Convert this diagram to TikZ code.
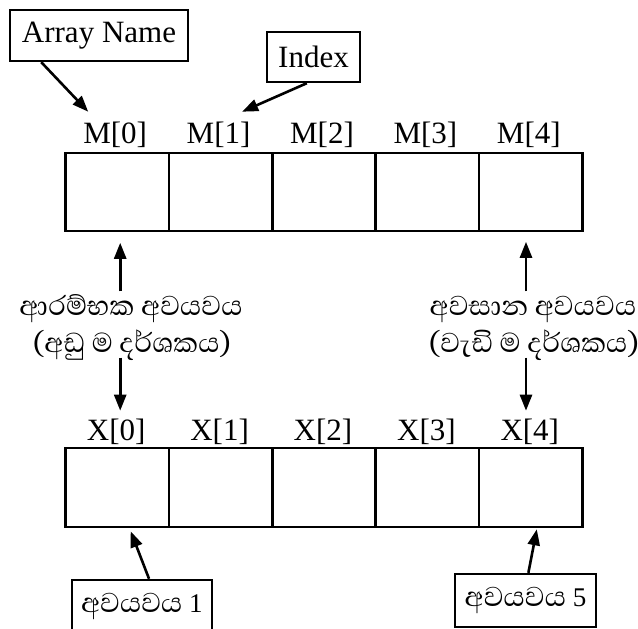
\documentclass[tikz,border=0pt]{standalone}
\usepackage{fontspec}
\setmainfont{Liberation Serif}
\newfontfamily\sinhalafont[Script=Sinhala]{Abhaya Libre}
\usetikzlibrary{arrows.meta,calc}
\newcommand\sinbig{\fontsize{35}{40}\sinhalafont}
\begin{document}
\begin{tikzpicture}[x=1pt,y=-1pt,
  cell/.style={draw,line width=2.6pt,minimum width=103.4pt,minimum height=78pt,inner sep=0pt},
  lab/.style={font=\fontsize{31}{37}\selectfont,anchor=base,inner sep=0pt},
  tbox/.style={draw,line width=2.4pt,inner sep=0pt,font=\fontsize{31}{37}\selectfont},
  sbox/.style={draw,line width=2.4pt,inner sep=0pt,font=\fontsize{27}{37}\selectfont},
  sin/.style={font=\sinbig,anchor=base,inner sep=0pt},
  arr/.style={line width=2.6pt,-{Triangle[length=16pt,width=12pt]}}]
\useasboundingbox (0,0) rectangle (638,629);
\clip (0,0) rectangle (638,629);
\fill[white] (0,0) rectangle (638,629);
% arrays
\foreach \i in {0,...,4}{
  \node[cell] (m\i) at ({117.2+103.4*\i},192) {};
  \node[lab] (ml\i) at ({115.2+103.4*\i},143) {M[\i]};
  \node[cell,minimum height=79pt] (x\i) at ({117.2+103.4*\i},487.5) {};
  \node[lab] (xl\i) at ({116.2+103.4*\i},440) {X[\i]};
}
% boxes
\node[tbox,minimum width=178pt,minimum height=51pt] (an) at (99,35.5) {Array Name};
\node[tbox,minimum width=93pt,minimum height=50pt] (ix) at (313.5,57) {Index};
\node[sbox,minimum width=140.3pt,minimum height=52pt] (b1) at (141.9,606) {{\sinbig අවයවය} 1};
\node[sbox,minimum width=141pt,minimum height=53pt] (b5) at (525.5,600.5) {{\sinbig අවයවය} 5};
% sinhala texts
\node[sin] (s1a) at (131,315) {ආරම්භක අවයවය};
\node[sin] (s1b) at (132,352) {(අඩු ම දර්ශකය)};
\node[sin] (s2a) at (533,315) {අවසාන අවයවය};
\node[sin] (s2b) at (534,352) {(වැඩි ම දර්ශකය)};
% connectors
\draw[arr] ($(an.south west)!0.18!(an.south east)$) -- ($(m0.north)+(-29,-40)$);
\draw[arr] ($(ix.south west)!0.43!(ix.south east)$) -- ($(m1.north)+(21.5,-40)$);
\draw[arr] ($(m0.south)+(3,59)$) -- ($(m0.south)+(3,10.5)$);
\draw[arr] ($(m4.south)+(-4.8,59)$) -- ($(m4.south)+(-4.8,9.5)$);
\draw[arr] ($(x0.north)+(3,-89)$) -- ($(x0.north)+(3,-36)$);
\draw[arr] ($(x4.north)+(-4.8,-89)$) -- ($(x4.north)+(-4.8,-36)$);
\draw[arr] ($(b1.north west)!0.55!(b1.north east)$) -- ($(x0.south)+(13.5,3)$);
\draw[arr] ($(b5.north west)!0.52!(b5.north east)$) -- ($(x4.south)+(6,1)$);
\end{tikzpicture}
\end{document}
